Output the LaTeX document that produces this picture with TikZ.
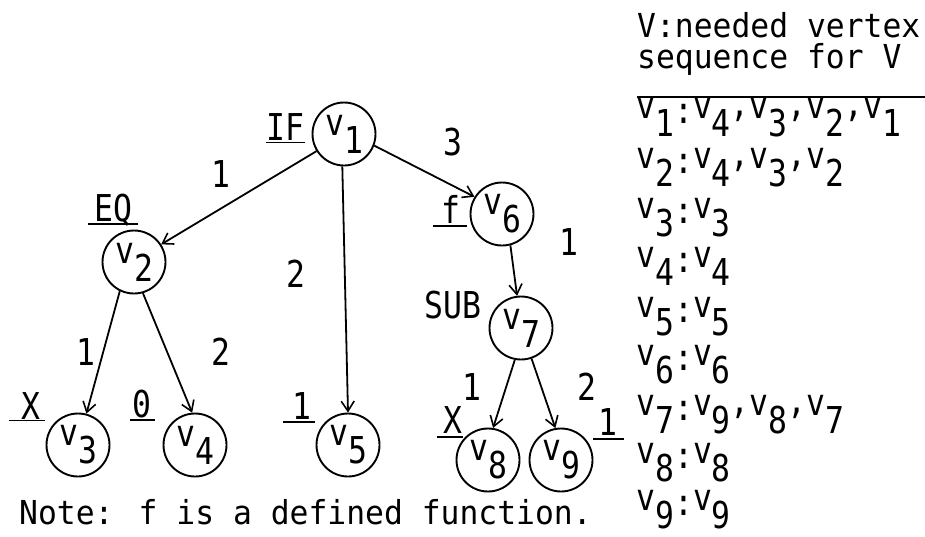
\documentclass[tikz,border=0pt]{standalone}
\usepackage{fontspec}
\newfontfamily\tw[FakeStretch=0.85]{DejaVu Sans Mono}
\newfontfamily\twb[FakeStretch=0.95]{DejaVu Sans Mono}
\usetikzlibrary{arrows.meta}
\newcommand\vsub[1]{v\raisebox{-18pt}{#1}}
\newcommand\cm{\raisebox{2pt}{,}}
\newcommand\cl{\raisebox{-5pt}{:}}
\tikzset{
  vert/.style={circle, draw, line width=1.9pt, minimum size=63pt, inner sep=0pt,
               font=\tw\fontsize{37}{40}\selectfont},
  lab/.style={inner sep=0pt, font=\tw\fontsize{37}{40}\selectfont},
  txt/.style={inner sep=0pt, font=\twb\fontsize{33}{36}\selectfont},
  edge/.style={line width=1.8pt, -{Straight Barb[length=10pt,width=13pt,line width=1.6pt]}},
  ul/.style={line width=1.8pt}
}
\begin{document}
\begin{tikzpicture}[x=1pt,y=-1pt]
\useasboundingbox (0,0) rectangle (925,536);
% vertices
\node[vert] (v1) at (344,134) {\vsub{1}};
\node[vert] (v2) at (134,262) {\vsub{2}};
\node[vert] (v3) at (78,445) {\vsub{3}};
\node[vert] (v4) at (195,445) {\vsub{4}};
\node[vert] (v5) at (348,445) {\vsub{5}};
\node[vert] (v6) at (502,214) {\vsub{6}};
\node[vert] (v7) at (521,328) {\vsub{7}};
\node[vert] (v8) at (488,460) {\vsub{8}};
\node[vert] (v9) at (561,460) {\vsub{9}};
% edges
\draw[edge] (v1.212) -- (v2.33);
\draw[edge] (v1.267) -- (v5.90);
\draw[edge] (v1.-21) -- (v6.148);
\draw[edge] (v2.244) -- (v3.75);
\draw[edge] (v2.286) -- (v4.95);
\draw[edge] (v6.-75) -- (v7.97);
\draw[edge] (v7.-101) -- (v8.81);
\draw[edge] (v7.-71) -- (v9.100);
% edge labels
\node[lab, anchor=base] (e12) at (221,187) {1};
\node[lab, anchor=base] (e15) at (296,287) {2};
\node[lab, anchor=base] (e16) at (453,155) {3};
\node[lab, anchor=base] (e23) at (86,365) {1};
\node[lab, anchor=base] (e24) at (221,365) {2};
\node[lab, anchor=base] (e67) at (569,255) {1};
\node[lab, anchor=base] (e78) at (472,400) {1};
\node[lab, anchor=base] (e79) at (587,400) {2};
% operator labels
\node[lab, anchor=base] (oIF) at (285.5,140) {IF};
\draw[ul] (266,142.5) -- (305,142.5);
\node[lab, anchor=base] (oEQ) at (113,221) {EQ};
\draw[ul] (88,224) -- (138,224);
\node[lab, anchor=base] (of) at (451,223) {f};
\draw[ul] (433,226) -- (467,226);
\node[lab, anchor=base] (oSUB) at (453,318) {SUB};
\node[lab, anchor=base] (oX3) at (31,419) {X};
\draw[ul] (9,420.5) -- (45,420.5);
\node[lab, anchor=base] (o04) at (142,417) {0};
\draw[ul] (130,420) -- (155,420);
\node[lab, anchor=base] (o15) at (302,419) {1};
\draw[ul] (283,422) -- (315,422);
\node[lab, anchor=base] (oX8) at (453,433) {X};
\draw[ul] (437,437) -- (463,437);
\node[lab, anchor=base] (o19) at (608,435) {1};
\draw[ul] (593,439) -- (624,439);
% note
\node[txt, anchor=base west] (note) at (19,524) {Note: f is a defined function.};
% table
\node[txt, anchor=base west] (h1) at (637,37) {V:needed vertex};
\node[txt, anchor=base west] (h2) at (637,68) {sequence for V};
\draw[ul] (637,97) -- (925,97);
\node[lab, anchor=base west] (r1) at (636,118) {\vsub{1}\cl\vsub{4}\cm\vsub{3}\cm\vsub{2}\cm\vsub{1}};
\node[lab, anchor=base west] (r2) at (636,168) {\vsub{2}\cl\vsub{4}\cm\vsub{3}\cm\vsub{2}};
\node[lab, anchor=base west] (r3) at (636,218) {\vsub{3}\cl\vsub{3}};
\node[lab, anchor=base west] (r4) at (636,267) {\vsub{4}\cl\vsub{4}};
\node[lab, anchor=base west] (r5) at (636,317) {\vsub{5}\cl\vsub{5}};
\node[lab, anchor=base west] (r6) at (636,365) {\vsub{6}\cl\vsub{6}};
\node[lab, anchor=base west] (r7) at (636,415) {\vsub{7}\cl\vsub{9}\cm\vsub{8}\cm\vsub{7}};
\node[lab, anchor=base west] (r8) at (636,463) {\vsub{8}\cl\vsub{8}};
\node[lab, anchor=base west] (r9) at (636,510) {\vsub{9}\cl\vsub{9}};
\end{tikzpicture}
\end{document}
